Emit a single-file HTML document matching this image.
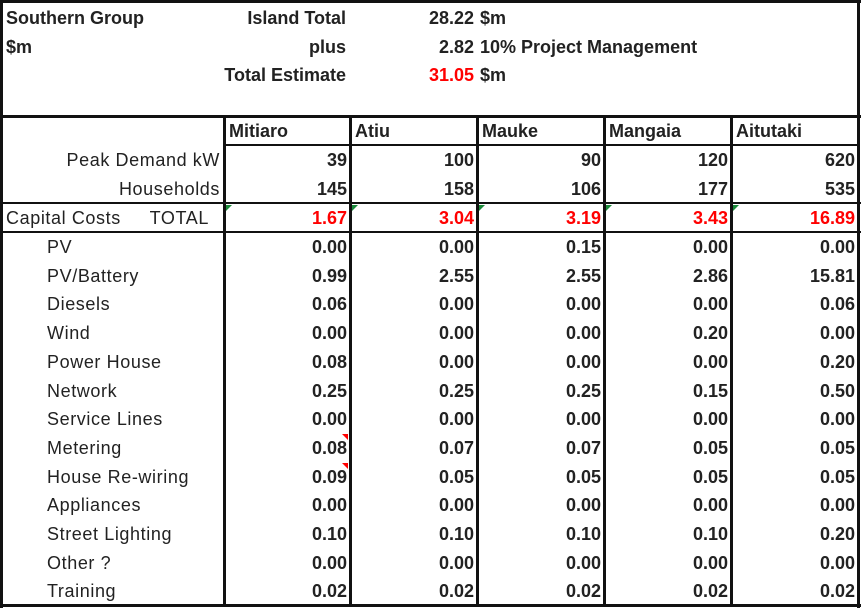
<!DOCTYPE html>
<html><head><meta charset="utf-8"><style>
body{margin:0;width:861px;height:608px;background:#fff;font-family:"Liberation Sans",sans-serif;position:relative;overflow:hidden;color:#222}
.t{position:absolute;white-space:nowrap;font-size:18px;line-height:20px}
.b{font-weight:bold}
.red{color:#f00}
.ln{position:absolute;background:#111}
.lab{letter-spacing:0.6px}
.tri{position:absolute;width:0;height:0}
</style></head><body>
<div id="root"></div>
<script>
const islands=["Mitiaro","Atiu","Mauke","Mangaia","Aitutaki"];
const peak=[39,100,90,120,620];
const households=[145,158,106,177,535];
const totals=["1.67","3.04","3.19","3.43","16.89"];
const itemLabels=["PV","PV/Battery","Diesels","Wind","Power House","Network","Service Lines","Metering","House Re-wiring","Appliances","Street Lighting","Other ?","Training"];
const itemValues=[
["0.00","0.00","0.15","0.00","0.00"],
["0.99","2.55","2.55","2.86","15.81"],
["0.06","0.00","0.00","0.00","0.06"],
["0.00","0.00","0.00","0.20","0.00"],
["0.08","0.00","0.00","0.00","0.20"],
["0.25","0.25","0.25","0.15","0.50"],
["0.00","0.00","0.00","0.00","0.00"],
["0.08","0.07","0.07","0.05","0.05"],
["0.09","0.05","0.05","0.05","0.05"],
["0.00","0.00","0.00","0.00","0.00"],
["0.10","0.10","0.10","0.10","0.20"],
["0.00","0.00","0.00","0.00","0.00"],
["0.02","0.02","0.02","0.02","0.02"]];
const colX=[224,350,477,604,731,858];
const B=document.body;
function txt(s,x,y,cls,name,right){
 const d=document.createElement('div');
 d.className='t '+cls;
 d.textContent=s;
 
 
 if(right){d.style.right=(861-x)+'px';}else{d.style.left=x+'px';}
 d.style.top=(y-10)+'px';
 B.appendChild(d);return d;
}
function line(x,y,w,h,name){
 const d=document.createElement('div');
 d.className='ln';
 
 
 d.style.left=x+'px';d.style.top=y+'px';d.style.width=w+'px';d.style.height=h+'px';
 B.appendChild(d);
}
function tri(x,y,color,name){
 const d=document.createElement('div');
 d.className='tri';
 
 
 d.style.left=x+'px';d.style.top=y+'px';
 if(color==='g'){d.style.borderTop='6px solid #1a8a3a';d.style.borderRight='6px solid transparent';}
 else{d.style.borderTop='6px solid #f00';d.style.borderLeft='6px solid transparent';}
 B.appendChild(d);
}
txt("Southern Group",6,18,'b','title',false);
txt("$m",6,47,'b','units-label',false);
txt("Island Total",346,18,'b','island-total-label',true);
txt("plus",346,47,'b','plus-label',true);
txt("Total Estimate",346,75,'b','total-estimate-label',true);
txt("28.22",474,18,'b','island-total-value',true);
txt("2.82",474,47,'b','plus-value',true);
txt("31.05",474,75,'b red','total-estimate-value',true);
txt("$m",480,18,'b','island-total-unit',false);
txt("10% Project Management",480,47,'b','project-management-label',false);
txt("$m",480,75,'b','total-estimate-unit',false);
line(0,0,861,3,'border-top');
line(0,0,3,608,'border-left');
line(857,0,3,608,'border-right');
line(0,604,861,3,'border-bottom');
line(0,115,861,3,'header-divider');
line(224,144,636,2,'island-header-line');
line(0,202,861,2,'capital-top-line');
line(0,231,861,2,'capital-bottom-line');
for(let i=0;i<5;i++)line(colX[i]-1,116,3,490,'col-line-'+i);
islands.forEach((n,i)=>txt(n,colX[i]+5,131,'b','island-header-'+n.toLowerCase(),false));
txt("Peak Demand kW",220,160,'lab','peak-demand-label',true);
txt("Households",220,189,'lab','households-label',true);
txt("Capital Costs",6,218,'lab','capital-costs-label',false);
txt("TOTAL",209,218,'lab','total-label',true);
for(let i=0;i<5;i++){
 txt(String(peak[i]),colX[i+1]-3,160,'b','peak-'+i,true);
 txt(String(households[i]),colX[i+1]-3,189,'b','households-'+i,true);
 txt(totals[i],colX[i+1]-3,218,'b red','total-'+i,true);
 tri(colX[i]+2,205,'g','note-marker-'+i);
}
const r0=247,rh=28.7;
itemLabels.forEach((l,j)=>{
 const y=r0+j*rh;
 txt(l,47,y,'lab','item-label-'+j,false);
 for(let i=0;i<5;i++)txt(itemValues[j][i],colX[i+1]-3,y,'b','item-'+j+'-'+i,true);
});
tri(342,434,'r','comment-marker-metering');
tri(342,463,'r','comment-marker-rewiring');
</script>
</body></html>
